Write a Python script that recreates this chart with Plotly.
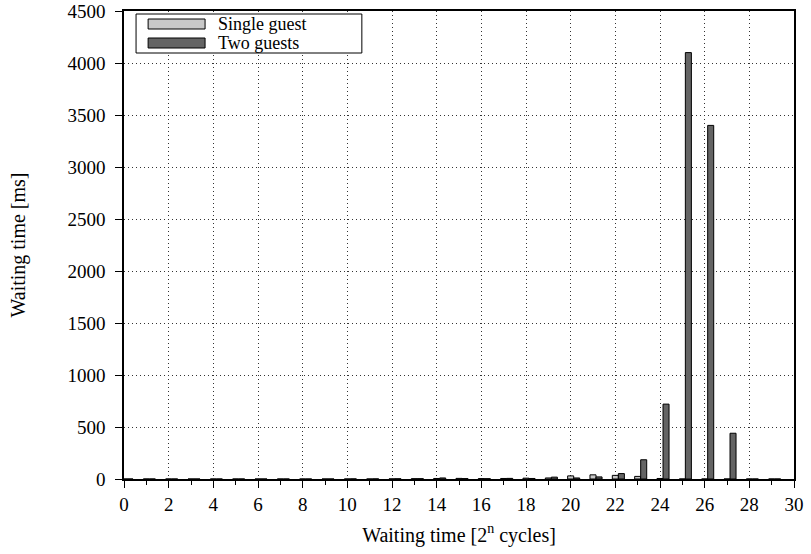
import plotly.graph_objects as go

n_values = list(range(0, 30))
single_guest = [0, 0, 0, 0, 0, 0, 0, 0, 0, 0,
                0, 0, 1, 3, 5, 6, 4, 5, 8, 10,
                30, 40, 35, 25, 5, 0, 0, 0, 0, 0]
two_guests = [0, 0, 0, 0, 0, 0, 0, 0, 0, 0,
              1, 1, 2, 3, 10, 4, 3, 6, 5, 18,
              10, 20, 52, 185, 720, 4100, 3400, 440, 0, 0]
x_ticks = list(range(0, 31, 2))
y_ticks = list(range(0, 4501, 500))
series_names = ["Single guest", "Two guests"]
series_colors = ["#c8c8c8", "#646464"]

FONT = "Liberation Serif, DejaVu Serif, Times New Roman, Times, serif"
FS = 19
FT = 20
W = 0.27

fig = go.Figure()
fig.add_trace(go.Bar(
    x=n_values, y=single_guest, name=series_names[0],
    width=W, offset=-W / 2,
    marker=dict(color=series_colors[0], line=dict(color="black", width=1)),
))
fig.add_trace(go.Bar(
    x=n_values, y=two_guests, name=series_names[1],
    width=W, offset=W / 2,
    marker=dict(color=series_colors[1], line=dict(color="black", width=1)),
))

axis_common = dict(
    showline=True, linecolor="black", linewidth=1.5, mirror=True,
    showgrid=True, gridcolor="#333333", griddash="1px,3px", gridwidth=1,
    ticks="outside", ticklen=7, tickcolor="black", tickwidth=1,
    zeroline=False, automargin=False, ticklabeloverflow="allow",
    tickfont=dict(family=FONT, size=FS, color="black"),
)

# custom legend (wide swatches, boxed) in paper coordinates (plot area 124..794 x, 11..479 y)
shapes = [dict(type="rect", xref="paper", yref="paper",
               x0=0.018, x1=0.355, y0=(479 - 53) / 468, y1=(479 - 14) / 468,
               line=dict(color="black", width=1), fillcolor="white", layer="above")]
annotations = []
txt_px = [24, 43]
for i in range(2):
    c = (479 - txt_px[i]) / 468
    shapes.append(dict(type="rect", xref="paper", yref="paper",
                       x0=0.036, x1=0.121, y0=c - 5 / 468, y1=c + 5 / 468,
                       line=dict(color="black", width=1), fillcolor=series_colors[i], layer="above"))
    annotations.append(dict(xref="paper", yref="paper", x=0.137, y=c,
                            xanchor="left", yanchor="middle", showarrow=False,
                            text=series_names[i], font=dict(family=FONT, size=18, color="black")))

fig.update_layout(
    width=811, height=554,
    margin=dict(l=124, r=17, t=11, b=75, autoexpand=False),
    paper_bgcolor="white", plot_bgcolor="white",
    barmode="overlay",
    font=dict(family=FONT, size=FS, color="black"),
    showlegend=False,
    shapes=shapes,
    annotations=annotations,
    xaxis=dict(
        range=[0, 30], tickvals=x_ticks, ticktext=[str(v) for v in x_ticks],
        minor=dict(dtick=1, tick0=0, ticks="outside", ticklen=4, tickcolor="black", showgrid=False),
        title=dict(text="Waiting time [2<sup>n</sup> cycles]", font=dict(family=FONT, size=FT), standoff=14),
        **axis_common,
    ),
    yaxis=dict(
        range=[0, 4500], tickvals=y_ticks, ticktext=[str(v) for v in y_ticks],
        ticklabelstandoff=6,
        title=dict(text="Waiting time [ms]", font=dict(family=FONT, size=FT), standoff=36),
        **axis_common,
    ),
)

fig.write_html("out.html", config={"displayModeBar": False},
               post_script="document.body.style.margin='0px';document.body.style.overflow='hidden';")
